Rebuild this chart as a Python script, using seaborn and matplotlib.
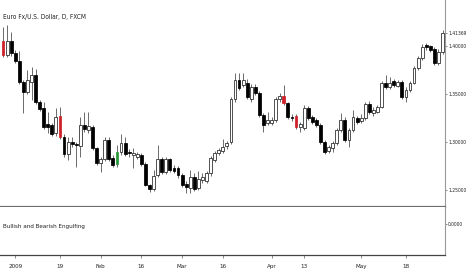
import numpy as np
import pandas as pd
import matplotlib
matplotlib.use("Agg")
import matplotlib.pyplot as plt
import seaborn as sns
from matplotlib import font_manager
from matplotlib.font_manager import FontProperties

# ---------------- data ----------------
opens = [1.4055, 1.3910, 1.4055, 1.3927, 1.3847, 1.3626, 1.3525, 1.3629, 1.3698, 1.3421,
         1.3355, 1.3189, 1.3178, 1.3092, 1.3272, 1.3057, 1.2877, 1.3005, 1.2981, 1.2960,
         1.3175, 1.3126, 1.3154, 1.2936, 1.2786, 1.2825, 1.3022, 1.2838, 1.2773, 1.2894,
         1.2988, 1.2901, 1.2870, 1.2849, 1.2866, 1.2773, 1.2554, 1.2510, 1.2658, 1.2822,
         1.2690, 1.2822, 1.2731, 1.2731, 1.2658, 1.2565, 1.2520, 1.2641, 1.2520, 1.2606,
         1.2599, 1.2676, 1.2814, 1.2887, 1.2911, 1.2960, 1.3005, 1.3446, 1.3646, 1.3594,
         1.3612, 1.3446, 1.3577, 1.3508, 1.3282, 1.3196, 1.3199, 1.3230, 1.3446, 1.3480,
         1.3404, 1.3265, 1.3272, 1.3158, 1.3144, 1.3352, 1.3258, 1.3230, 1.3178, 1.3005,
         1.2911, 1.2936, 1.2988, 1.3126, 1.3230, 1.3022, 1.3126, 1.3248, 1.3220, 1.3248,
         1.3397, 1.3300, 1.3317, 1.3369, 1.3618, 1.3574, 1.3636, 1.3584, 1.3629, 1.3473,
         1.3542, 1.3618, 1.3768, 1.3872, 1.4010, 1.3996, 1.3966, 1.3820, 1.3941]
highs = [1.4198, 1.4218, 1.4149, 1.3960, 1.3948, 1.3650, 1.3750, 1.3785, 1.3760, 1.3440,
         1.3421, 1.3317, 1.3200, 1.3355, 1.3369, 1.3080, 1.3057, 1.3050, 1.3000, 1.3265,
         1.3317, 1.3317, 1.3180, 1.2950, 1.2850, 1.3057, 1.3057, 1.2870, 1.2970, 1.3085,
         1.3050, 1.2930, 1.2936, 1.2900, 1.2890, 1.2790, 1.2570, 1.2710, 1.2970, 1.2850,
         1.2850, 1.2840, 1.2760, 1.2750, 1.2680, 1.2600, 1.2710, 1.2680, 1.2700, 1.2680,
         1.2700, 1.2860, 1.2910, 1.2940, 1.3030, 1.3010, 1.3470, 1.3722, 1.3722, 1.3722,
         1.3660, 1.3600, 1.3600, 1.3530, 1.3300, 1.3317, 1.3260, 1.3470, 1.3510, 1.3594,
         1.3420, 1.3290, 1.3290, 1.3210, 1.3390, 1.3380, 1.3280, 1.3250, 1.3200, 1.3020,
         1.2970, 1.3010, 1.3150, 1.3300, 1.3260, 1.3150, 1.3334, 1.3270, 1.3290, 1.3420,
         1.3430, 1.3370, 1.3390, 1.3640, 1.3698, 1.3680, 1.3660, 1.3650, 1.3650, 1.3570,
         1.3640, 1.3790, 1.3900, 1.4020, 1.4030, 1.4010, 1.3990, 1.3970, 1.4170]
lows = [1.3885, 1.3890, 1.3900, 1.3820, 1.3600, 1.3303, 1.3500, 1.3438, 1.3400, 1.3320,
        1.3140, 1.3095, 1.3060, 1.3060, 1.3030, 1.2849, 1.2814, 1.2950, 1.2745, 1.2849,
        1.3110, 1.3100, 1.2920, 1.2760, 1.2693, 1.2800, 1.2800, 1.2740, 1.2745, 1.2870,
        1.2860, 1.2850, 1.2728, 1.2830, 1.2750, 1.2540, 1.2480, 1.2490, 1.2640, 1.2670,
        1.2670, 1.2690, 1.2680, 1.2630, 1.2530, 1.2470, 1.2471, 1.2490, 1.2500, 1.2580,
        1.2580, 1.2650, 1.2790, 1.2870, 1.2890, 1.2930, 1.2985, 1.3420, 1.3540, 1.3570,
        1.3450, 1.3420, 1.3490, 1.3260, 1.3109, 1.3180, 1.3180, 1.3210, 1.3420, 1.3390,
        1.3240, 1.3220, 1.3140, 1.3109, 1.3130, 1.3230, 1.3190, 1.3160, 1.2985, 1.2880,
        1.2890, 1.2901, 1.2970, 1.3110, 1.3000, 1.2953, 1.3110, 1.3190, 1.3200, 1.3230,
        1.3290, 1.3270, 1.3300, 1.3350, 1.3550, 1.3550, 1.3570, 1.3570, 1.3450, 1.3421,
        1.3520, 1.3600, 1.3750, 1.3850, 1.3960, 1.3940, 1.3800, 1.3800, 1.3920]
closes = [1.3910, 1.4055, 1.3924, 1.3847, 1.3626, 1.3525, 1.3646, 1.3698, 1.3421, 1.3342,
          1.3161, 1.3161, 1.3085, 1.3265, 1.3050, 1.2877, 1.3005, 1.2981, 1.2967, 1.3178,
          1.3140, 1.3168, 1.2936, 1.2780, 1.2825, 1.3022, 1.2825, 1.2762, 1.2901, 1.2988,
          1.2880, 1.2884, 1.2884, 1.2877, 1.2773, 1.2554, 1.2510, 1.2648, 1.2822, 1.2690,
          1.2825, 1.2710, 1.2703, 1.2658, 1.2554, 1.2530, 1.2641, 1.2510, 1.2614, 1.2641,
          1.2676, 1.2832, 1.2887, 1.2918, 1.2946, 1.2988, 1.3446, 1.3646, 1.3560, 1.3646,
          1.3473, 1.3577, 1.3508, 1.3282, 1.3178, 1.3230, 1.3230, 1.3446, 1.3480, 1.3404,
          1.3258, 1.3248, 1.3161, 1.3189, 1.3352, 1.3248, 1.3213, 1.3178, 1.3005, 1.2901,
          1.2946, 1.2988, 1.3126, 1.3230, 1.3022, 1.3126, 1.3258, 1.3213, 1.3251, 1.3397,
          1.3317, 1.3334, 1.3369, 1.3618, 1.3570, 1.3615, 1.3594, 1.3626, 1.3473, 1.3542,
          1.3618, 1.3768, 1.3872, 1.3993, 1.3986, 1.3958, 1.3820, 1.3941, 1.4137]
bearish_engulfing = [0, 14, 69, 72]
bullish_engulfing = [28]

tick_index = [3, 14, 24, 34, 44, 54, 66, 74, 88, 99]
tick_labels = ["2009", "19", "Feb", "16", "Mar", "16", "Apr", "13", "May", "18"]
price_ticks = [1.25, 1.30, 1.35, 1.40]
last_price = 1.41369

df = pd.DataFrame({"open": opens, "high": highs, "low": lows, "close": closes})
df["idx"] = np.arange(len(df))

# ---------------- style ----------------
sns.set_theme(style="white")
plt.rcParams["font.family"] = ["DejaVu Sans"]

narrow_fp = None
for f in font_manager.fontManager.ttflist:
    nm = f.name.lower()
    fn = f.fname.lower()
    is_narrow = ("narrow" in nm or "condensed" in nm or "condensed" in fn
                 or "narrow" in fn or str(f.stretch) in ("condensed", "semi-condensed"))
    if is_narrow and f.style == "normal" and "bold" not in fn and "oblique" not in fn \
            and "italic" not in fn and "light" not in fn:
        narrow_fp = f.fname
        break


def fprop(size):
    if narrow_fp:
        return FontProperties(fname=narrow_fp, size=size)
    return FontProperties(family="DejaVu Sans", size=size)


W, H = 466, 275
fig = plt.figure(figsize=(W / 100, H / 100), dpi=100)
fig.patch.set_facecolor("white")

ax = fig.add_axes([0, (H - 207) / H, 445 / W, 207 / H])
ax2 = fig.add_axes([0, (H - 255) / H, 445 / W, 48 / H])

RED = "#d0202a"
GREEN = "#2a9a3a"
colors = []
for i, r in df.iterrows():
    if i in bearish_engulfing:
        colors.append(RED)
    elif i in bullish_engulfing:
        colors.append(GREEN)
    elif r["close"] >= r["open"]:
        colors.append("white")
    else:
        colors.append("black")
edge = ["#222222" if c == "white" else c for c in colors]

ax.vlines(df["idx"], df["low"], df["high"], color="#444444", lw=0.55, zorder=1)
bottom = np.minimum(df["open"], df["close"])
height = np.maximum(np.abs(df["close"] - df["open"]), 0.0004)
ax.bar(df["idx"], height, bottom=bottom, width=0.7, color=colors,
       edgecolor=edge, linewidth=0.55, zorder=2)

x_lo, x_hi = -0.74, 108.6
ax.set_xlim(x_lo, x_hi)
ax.set_ylim(1.40 - 161 * 0.00104, 1.40 + 46 * 0.00104)
ax.yaxis.tick_right()
ax.set_yticks(price_ticks + [last_price])
ax.set_yticklabels([f"{p:.5f}" for p in price_ticks] + [f"{last_price:.5f}"])
ax.tick_params(axis="y", direction="out", length=1.5, width=0.6, color="#777777",
               pad=0.8, labelcolor="#222222", right=True)
ax.set_xticks([])
for s in ["top", "left"]:
    ax.spines[s].set_visible(False)
ax.spines["right"].set_color("#999999")
ax.spines["right"].set_linewidth(0.8)
ax.spines["bottom"].set_color("#6e6e6e")
ax.spines["bottom"].set_linewidth(1.6)
title = ax.text(0.007, 0.918, "Euro Fx/U.S. Dollar, D, FXCM", transform=ax.transAxes,
                color="#222222", ha="left", va="center")

ax2.set_xlim(x_lo, x_hi)
ax2.set_ylim(-0.646, 0.354)
ax2.yaxis.tick_right()
ax2.set_yticks([0.0])
ax2.set_yticklabels(["0.0000"])
ax2.tick_params(axis="y", direction="out", length=1.5, width=0.6, color="#777777",
                pad=0.8, labelcolor="#222222", right=True)
ax2.set_xticks(tick_index)
ax2.set_xticklabels(tick_labels)
ax2.tick_params(axis="x", direction="out", length=2.5, width=0.6, color="#777777",
                pad=4, labelcolor="#222222", bottom=True)
for s in ["top", "left"]:
    ax2.spines[s].set_visible(False)
ax2.spines["right"].set_color("#999999")
ax2.spines["right"].set_linewidth(0.8)
ax2.spines["bottom"].set_color("#444444")
ax2.spines["bottom"].set_linewidth(0.9)
sub = ax2.text(0.007, 0.6, "Bullish and Bearish Engulfing", transform=ax2.transAxes,
               color="#222222", ha="left", va="center")

fig.canvas.draw()
renderer = fig.canvas.get_renderer()


def fit(texts, target_w, start, minsize=2.5):
    size = start
    while size > minsize:
        for t in texts:
            t.set_fontproperties(fprop(size))
        wmax = max(t.get_window_extent(renderer).width for t in texts)
        if wmax <= target_w:
            break
        size -= 0.1
    return size


fit([title], 84, 7.0, minsize=4.5)
fit([sub], 82, 6.5, minsize=4.5)
ylabs = list(ax.get_yticklabels()) + list(ax2.get_yticklabels())
fit(ylabs, 18.5, 6.5)
fit(list(ax2.get_xticklabels()), 12, 6.5, minsize=4.5)

fig.savefig("out.png", dpi=100, facecolor="white")
